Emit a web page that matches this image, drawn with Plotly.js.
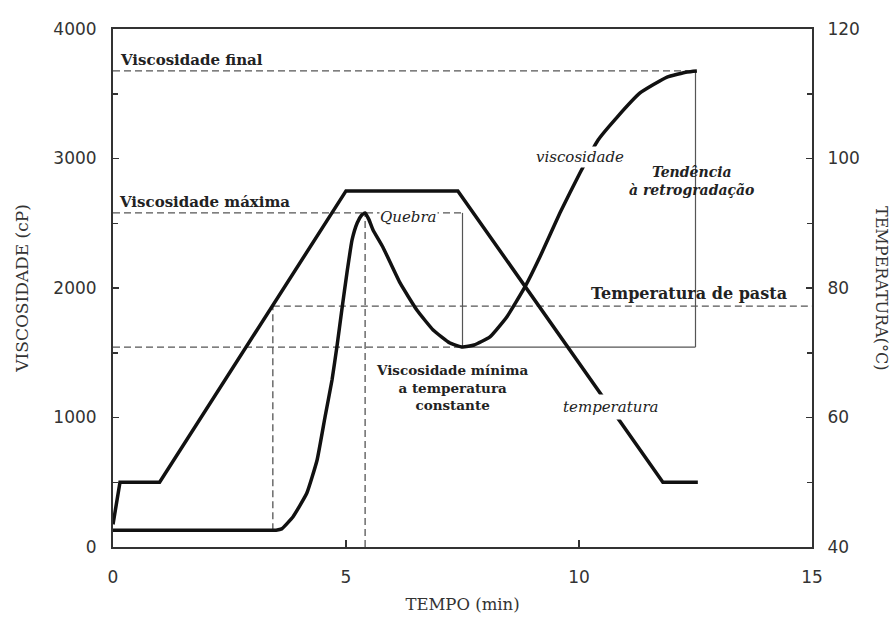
<!DOCTYPE html>
<html>
<head>
<meta charset="utf-8">
<script src="https://cdn.plot.ly/plotly-3.0.1.min.js"></script>
<style>html,body{margin:0;padding:0;background:#fff;}#chart{width:895px;height:619px;}</style>
</head>
<body>
<div id="chart"></div>
<script>
// ---- Data ----
const viscTime = [0, 1, 2, 3, 3.5, 3.62, 3.86, 4.16, 4.38, 4.55, 4.70, 4.81, 4.91, 5.02, 5.13, 5.24, 5.33, 5.41, 5.49, 5.58, 5.79, 6.16, 6.52, 6.87, 7.23, 7.5, 7.75, 8.09, 8.45, 8.84, 9.16, 9.59, 10.02, 10.41, 10.82, 11.31, 11.89, 12.32, 12.53];
const viscValues = [130, 130, 130, 130, 130, 140, 232, 417, 672, 1004, 1290, 1560, 1830, 2116, 2371, 2502, 2560, 2580, 2530, 2448, 2317, 2039, 1830, 1676, 1575, 1544, 1560, 1622, 1776, 2008, 2239, 2579, 2888, 3143, 3320, 3506, 3629, 3668, 3676];

const tempTime = [0, 0.15, 1.0, 5.0, 7.4, 11.8, 12.55];
const tempValues = [43.5, 50, 50, 95, 95, 50, 50];

// reference values
const finalViscosity = 3676;
const peakViscosity = 2580;
const peakTime = 5.41;
const minViscosity = 1544;
const minTime = 7.5;
const endTime = 12.5;
const pastingTemp = 77.2;
const pastingViscosity = 1861;
const pastingTime = 3.43;
const baseViscosity = 130;

const xTicks = [0, 5, 10, 15];
const yTicks = [0, 1000, 2000, 3000, 4000];
const y2Ticks = [40, 60, 80, 100, 120];

const serif = 'DejaVu Serif, Liberation Serif, serif';
const sans = 'DejaVu Sans, Liberation Sans, Arial, sans-serif';
const lineCol = '#111';
const refCol = '#555';

const traces = [
  {x: viscTime, y: viscValues, mode: 'lines', type: 'scatter', yaxis: 'y',
   line: {color: lineCol, width: 3.5, shape: 'spline', smoothing: 0.4}, hoverinfo: 'skip', name: 'viscosidade'},
  {x: tempTime, y: tempValues, mode: 'lines', type: 'scatter', yaxis: 'y2',
   line: {color: lineCol, width: 3.5}, hoverinfo: 'skip', name: 'temperatura'}
];

const dash = {color: refCol, width: 1.3, dash: '7px,4px'};
const solid = {color: refCol, width: 1.2};
const shapes = [
  {type: 'line', xref: 'x', yref: 'y', x0: 0, x1: endTime, y0: finalViscosity, y1: finalViscosity, line: dash, layer: 'below'},
  {type: 'line', xref: 'x', yref: 'y', x0: 0, x1: minTime, y0: peakViscosity, y1: peakViscosity, line: dash, layer: 'below'},
  {type: 'line', xref: 'x', yref: 'y', x0: minTime, x1: minTime, y0: minViscosity, y1: peakViscosity, line: solid, layer: 'below'},
  {type: 'line', xref: 'x', yref: 'y', x0: peakTime, x1: peakTime, y0: 0, y1: peakViscosity, line: dash, layer: 'below'},
  {type: 'line', xref: 'x', yref: 'y', x0: 0, x1: minTime, y0: minViscosity, y1: minViscosity, line: dash, layer: 'below'},
  {type: 'line', xref: 'x', yref: 'y', x0: minTime, x1: endTime, y0: minViscosity, y1: minViscosity, line: solid, layer: 'below'},
  {type: 'line', xref: 'x', yref: 'y', x0: endTime, x1: endTime, y0: minViscosity, y1: finalViscosity, line: solid, layer: 'below'},
  {type: 'line', xref: 'x', yref: 'y2', x0: pastingTime, x1: 15, y0: pastingTemp, y1: pastingTemp, line: dash, layer: 'below'},
  {type: 'line', xref: 'x', yref: 'y', x0: pastingTime, x1: pastingTime, y0: baseViscosity, y1: pastingViscosity, line: dash, layer: 'below'}
];

const txt = (size) => ({family: serif, size: size, color: '#222'});

const annotations = [
  {xref: 'x', yref: 'y', x: 0.11, y: 3761, text: '<b>Viscosidade final</b>', showarrow: false, xanchor: 'left', yanchor: 'middle', font: txt(15)},
  {xref: 'x', yref: 'y', x: 0.09, y: 2664, text: '<b>Viscosidade máxima</b>', showarrow: false, xanchor: 'left', yanchor: 'middle', font: txt(15)},
  {xref: 'x', yref: 'y', x: 6.35, y: 2548, text: '<i>Quebra</i>', showarrow: false, xanchor: 'center', yanchor: 'middle', font: txt(15), bgcolor: '#fff', borderpad: 0},
  {xref: 'x', yref: 'y', x: 10.02, y: 3012, text: '<i>viscosidade</i>', showarrow: false, xanchor: 'center', yanchor: 'middle', font: txt(15), bgcolor: '#fff', borderpad: 1},
  {xref: 'x', yref: 'y', x: 12.42, y: 2826, text: '<b><i>Tendência<br>à retrogradação</i></b>', showarrow: false, xanchor: 'center', yanchor: 'middle', font: txt(14)},
  {xref: 'x', yref: 'y', x: 12.36, y: 1961, text: '<b>Temperatura de pasta</b>', showarrow: false, xanchor: 'center', yanchor: 'middle', font: txt(16)},
  {xref: 'x', yref: 'y', x: 7.27, y: 1228, text: '<b>Viscosidade mínima<br>a temperatura<br>constante</b>', showarrow: false, xanchor: 'center', yanchor: 'middle', font: txt(13.5)},
  {xref: 'x', yref: 'y', x: 10.69, y: 1081, text: '<i>temperatura</i>', showarrow: false, xanchor: 'center', yanchor: 'middle', font: txt(15), bgcolor: '#fff', borderpad: 3},
  {xref: 'paper', yref: 'paper', x: 1.0, xshift: 70, y: 0.5, text: 'TEMPERATURA(°C)', textangle: 90, showarrow: false, xanchor: 'center', yanchor: 'middle', font: {family: serif, size: 16, color: '#333'}}
];

const layout = {
  width: 895, height: 619,
  margin: {l: 113, r: 83, t: 29, b: 72},
  paper_bgcolor: '#fff', plot_bgcolor: '#fff',
  showlegend: false,
  xaxis: {
    range: [0, 15], tickvals: xTicks, ticktext: xTicks.map(String),
    ticks: 'inside', ticklen: 7, tickwidth: 1.5, tickcolor: '#333',
    showline: true, linecolor: '#333', linewidth: 2, mirror: true,
    showgrid: false, zeroline: false,
    tickfont: {family: sans, size: 17, color: '#333'}, ticklabelstandoff: 14,
    title: {text: 'TEMPO (min)', font: {family: serif, size: 16.5, color: '#333'}, standoff: 12}
  },
  yaxis: {
    range: [0, 4000], tickvals: yTicks, ticktext: yTicks.map(String),
    ticks: 'inside', ticklen: 6, tickwidth: 1.5, tickcolor: '#333',
    minor: {dtick: 500, tick0: 0, ticks: 'inside', ticklen: 5, tickcolor: '#333', showgrid: false},
    showline: true, linecolor: '#333', linewidth: 2,
    showgrid: false, zeroline: false,
    tickfont: {family: sans, size: 17, color: '#333'}, ticklabelstandoff: 11,
    title: {text: 'VISCOSIDADE (cP)', font: {family: serif, size: 17, color: '#333'}, standoff: 20}
  },
  yaxis2: {
    overlaying: 'y', side: 'right',
    range: [40, 120], tickvals: y2Ticks, ticktext: y2Ticks.map(String),
    ticks: 'inside', ticklen: 6, tickwidth: 1.5, tickcolor: '#333',
    minor: {dtick: 10, tick0: 40, ticks: 'inside', ticklen: 5, tickcolor: '#333', showgrid: false},
    showline: true, linecolor: '#333', linewidth: 2,
    showgrid: false, zeroline: false,
    tickfont: {family: sans, size: 17, color: '#333'}, ticklabelstandoff: 10
  },
  shapes: shapes,
  annotations: annotations
};

Plotly.newPlot('chart', traces, layout, {staticPlot: true, displayModeBar: false});
</script>
</body>
</html>
